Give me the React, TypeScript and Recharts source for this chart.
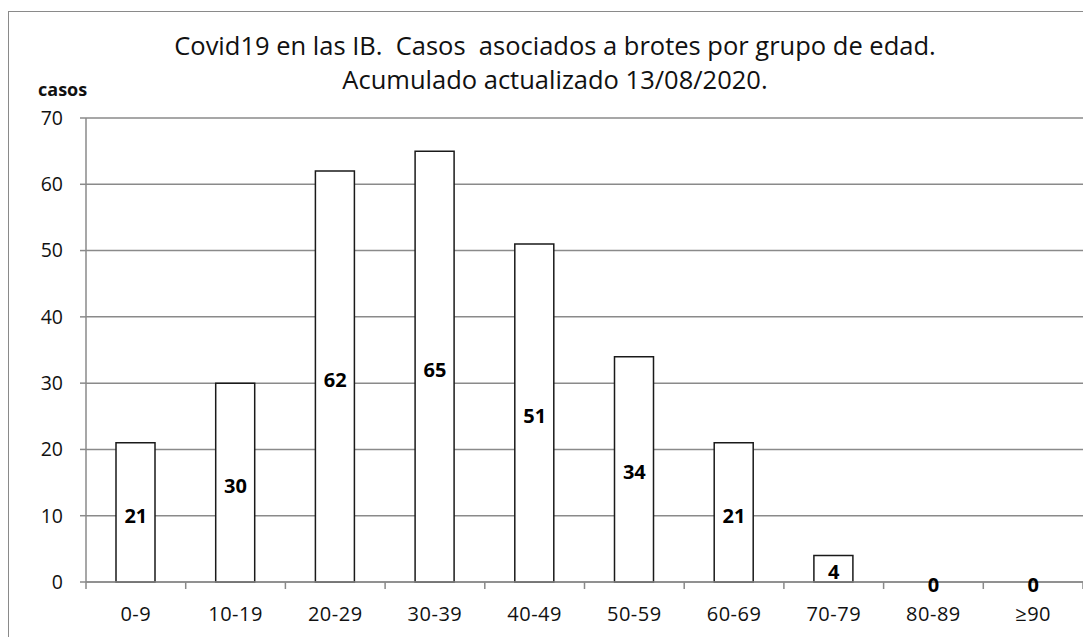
import React from 'react';
import { ComposedChart, Bar, Line, XAxis, YAxis, CartesianGrid, LabelList } from 'recharts';

const groups = ['0-9', '10-19', '20-29', '30-39', '40-49', '50-59', '60-69', '70-79', '80-89', '≥90'];
const casos = [21, 30, 62, 65, 51, 34, 21, 4, 0, 0];
const yTicks = [0, 10, 20, 30, 40, 50, 60, 70];

// mid is only where the value label sits (middle of the bar)
const data = groups.map((g, i) => ({ group: g, casos: casos[i], mid: casos[i] / 2 }));

const FONT = '"Open Sans", "Noto Sans", sans-serif';
const GRID = '#8a8a8a';

const W = 1083;
const H = 629;
const M = { top: 110, right: 8, bottom: 25, left: 38 };
const Y_W = 40;
const HALF_BAND = (W - M.left - M.right - Y_W) / groups.length / 2;

// category tick with tick marks on the band edges, like the original
const EdgeTick = (props: any) => {
  const { x, y, payload, index } = props;
  const last = index === groups.length - 1;
  return (
    <g>
      <line x1={x - HALF_BAND} y1={y - 8} x2={x - HALF_BAND} y2={y - 1} stroke={GRID} strokeWidth={1.5} />
      {last && (
        <line x1={x + HALF_BAND} y1={y - 8} x2={x + HALF_BAND} y2={y - 1} stroke={GRID} strokeWidth={1.5} />
      )}
      <text x={x} y={y + 31} textAnchor="middle" fill="#111" fontSize={20} letterSpacing={0.5} fontFamily={FONT}>
        {payload.value}
      </text>
    </g>
  );
};

const App: React.FC = () => {
  return (
    <div style={{ position: 'relative', width: W, height: H, overflow: 'hidden', fontFamily: FONT }}>
      <div
        style={{
          position: 'absolute', left: 0, top: 3, width: 1200, height: 800,
          borderLeft: `1.5px solid ${GRID}`, borderTop: `1.5px solid ${GRID}`,
        }}
      />
      <div
        style={{
          position: 'absolute', left: 0, top: 20, width: 1094, textAlign: 'center',
          fontSize: 25.5, lineHeight: '34px', color: '#111', whiteSpace: 'pre',
        }}
      >
        {'Covid19 en las IB.  Casos  asociados a brotes por grupo de edad.\nAcumulado actualizado 13/08/2020.'}
      </div>
      <div style={{ position: 'absolute', left: 30, top: 72, fontSize: 18, lineHeight: 1, fontWeight: 700, color: '#111' }}>
        casos
      </div>
      <div style={{ position: 'absolute', left: 0, top: 0 }}>
        <ComposedChart width={W} height={H} data={data} margin={M}>
          <CartesianGrid vertical={false} stroke={GRID} strokeWidth={1.5} />
          <XAxis
            dataKey="group"
            height={30}
            axisLine={{ stroke: GRID, strokeWidth: 1.5 }}
            tickLine={false}
            tick={<EdgeTick />}
            interval={0}
          />
          <YAxis
            width={Y_W}
            domain={[0, 70]}
            ticks={yTicks}
            axisLine={{ stroke: GRID, strokeWidth: 1.5 }}
            tickLine={{ stroke: GRID, strokeWidth: 1.5 }}
            tickSize={6}
            tickMargin={17}
            tick={{ fill: '#111', fontSize: 19.5, fontFamily: FONT }}
          />
          <Bar dataKey="casos" fill="#fff" stroke="#1a1a1a" strokeWidth={1.5} barSize={39} isAnimationActive={false} />
          <Line
            dataKey="mid"
            stroke="none"
            dot={false}
            activeDot={false}
            legendType="none"
            isAnimationActive={false}
          >
            <LabelList dataKey="casos" position="center" dy={3} fill="#000" fontSize={20} fontWeight={700} fontFamily={FONT} />
          </Line>
        </ComposedChart>
      </div>
    </div>
  );
};

export default App;
